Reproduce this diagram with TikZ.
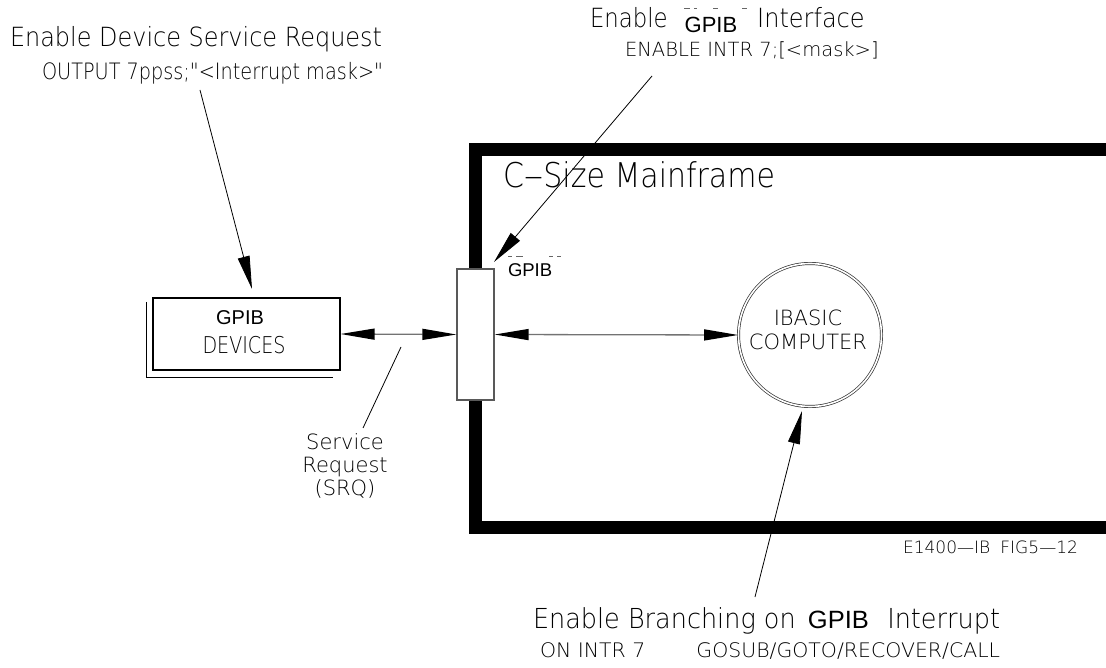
\documentclass[tikz,border=0pt]{standalone}
\usepackage{fontspec}
\usepackage{graphicx}
\usetikzlibrary{arrows.meta}
\setmainfont{DejaVu Sans}
\IfFontExistsTF{DejaVu Sans ExtraLight}%
  {\newfontfamily\simp{DejaVu Sans ExtraLight}}%
  {\newfontfamily\simp{DejaVu Sans}}
\newfontfamily\arial{Liberation Sans}
\newcommand\fsz[1]{\fontsize{#1}{1.2\dimexpr#1pt\relax}\selectfont}
% set a line to a given width, a little taller than the font draws it
\newcommand\fitw[2]{\resizebox{#1}{1.1\height}{#2}}
% long drafting dash
\newcommand\ldash{\scalebox{1.3}[1]{–}}

\tikzset{
  txt/.style={inner sep=0pt, outer sep=0pt, font=\simp},
  bigtip/.tip={Triangle[length=34pt,width=11pt,color=black]},
  bus/.style={draw=black!55, line width=1.3pt, bigtip-bigtip},
  leader/.style={draw=black, line width=0.8pt, -{Triangle[length=33pt,width=12pt]}},
  plainleader/.style={draw=black, line width=0.8pt},
  frame/.style={draw=black, line width=13pt},
  relic/.style={draw=black!60, line width=0.9pt},
}

\begin{document}
\begin{tikzpicture}[x=1pt,y=-1pt]
\useasboundingbox (0,0) rectangle (1106,668);
\clip (0,0) rectangle (1106,668);

% mainframe outline (right side runs past the edge)
\draw[frame] (475.5,149.5) rectangle (1112,527.5);
\node[txt, anchor=base west, font=\simp\fsz{31}] (mf) at (503,188) {\fitw{272pt}{C\ldash Size Mainframe}};

% GPIB interface card sitting in the left wall
\node[draw=black!65, fill=white, line width=1.2pt, minimum width=37pt, minimum height=131pt,
      inner sep=0pt] (ifc) at (475.5,334.5) {};
\node[txt, anchor=base west, font=\arial\fsz{18.5}] (ifclbl) at (508,277) {GPIB};
\draw[relic] (508,256) -- (512,256) (516,256) -- (523,256) (549,256) -- (553,256) (557,256) -- (561,256);

% GPIB devices with stacked shadow
\draw[line width=1pt] (146,302) -- (146,377) -- (333,377);
\node[draw=black, fill=white, line width=1.1pt, minimum width=187pt, minimum height=72pt,
      inner sep=0pt] (dev) at (246.5,334) {};
\node[txt, font=\arial\fsz{20}] (devgpib) at (240,318) {GPIB};
\node[txt, font=\simp\fsz{21}] (devtxt) at (244,345) {\fitw{83pt}{DEVICES}};

% IBASIC computer
\node[circle, draw=black!80, double=white, double distance=1.6pt, line width=0.7pt,
      minimum size=143pt, inner sep=0pt] (cpu) at (810,335) {};
\node[txt, font=\simp\fsz{21}, align=center] (cputxt) at (808,330) {IBASIC\\[-1pt]COMPUTER};

% bus connections
\draw[bus] (dev.east) -- (ifc.west);
\draw[bus] (ifc.east) -- (cpu.west);

% annotation: enable device service request
\node[txt, anchor=base west, font=\simp\fsz{24}] (t1) at (10,47) {\fitw{372pt}{Enable Device Service Request}};
\node[txt, anchor=base west, font=\simp\fsz{20.5}] (t2) at (42,80) {\fitw{341pt}{OUTPUT 7ppss;"<Interrupt mask>"}};
\coordinate (t1from) at (200,90);
\coordinate (t1to) at (252,289);
\draw[leader] (t1from) -- (t1to);

% annotation: enable GPIB interface
\node[txt, anchor=base west] (t3) at (590,28)
  {{\simp\fsz{24}\scalebox{0.95}[1.1]{Enable}}\hspace{17pt}\raisebox{-5pt}{\arial\fsz{22}GPIB}\hspace{20pt}{\simp\fsz{24}\scalebox{1}[1.1]{Interface}}};
\draw[relic] (684,8) -- (690,8) (694,8) -- (697,8) (713,8) -- (718,8) (742,8) -- (747,8);
\node[txt, anchor=base west, font=\simp\fsz{19.5}] (t4) at (625,57) {ENABLE INTR 7;[<mask>]};
\coordinate (t4from) at (652,76);
\coordinate (t4to) at (494,262);
\draw[leader] (t4from) -- (t4to);

% service request label
\node[txt, font=\simp\fsz{21}, align=center] (srq) at (345,466) {Service\\[-2pt]Request\\[-2pt](SRQ)};
\coordinate (srqa) at (401,347);
\coordinate (srqb) at (363,428);
\draw[plainleader] (srqa) -- (srqb);

% annotation: branching on interrupt
\node[txt, anchor=base west] (t5) at (533,628)
  {\resizebox{467pt}{\height}{{\simp\fsz{25}\scalebox{1}[1.1]{Enable Branching on}}\hspace{12pt}{\arial\fsz{25}GPIB}\hspace{18pt}{\simp\fsz{25}\scalebox{1}[1.1]{Interrupt}}}};
\node[txt, anchor=base west, font=\simp\fsz{20}] (t6) at (540,657)
  {\resizebox{460pt}{\height}{ON INTR 7\hspace{50pt}GOSUB/GOTO/RECOVER/CALL}};
\coordinate (t5from) at (755,597);
\coordinate (t5to) at (802,411);
\draw[leader] (t5from) -- (t5to);

% drawing number
\node[txt, anchor=base west, font=\simp\fsz{17}] (fig) at (903,553) {\resizebox{175pt}{\height}{E1400—IB\hspace{10pt}FIG5—12}};
\end{tikzpicture}
\end{document}
